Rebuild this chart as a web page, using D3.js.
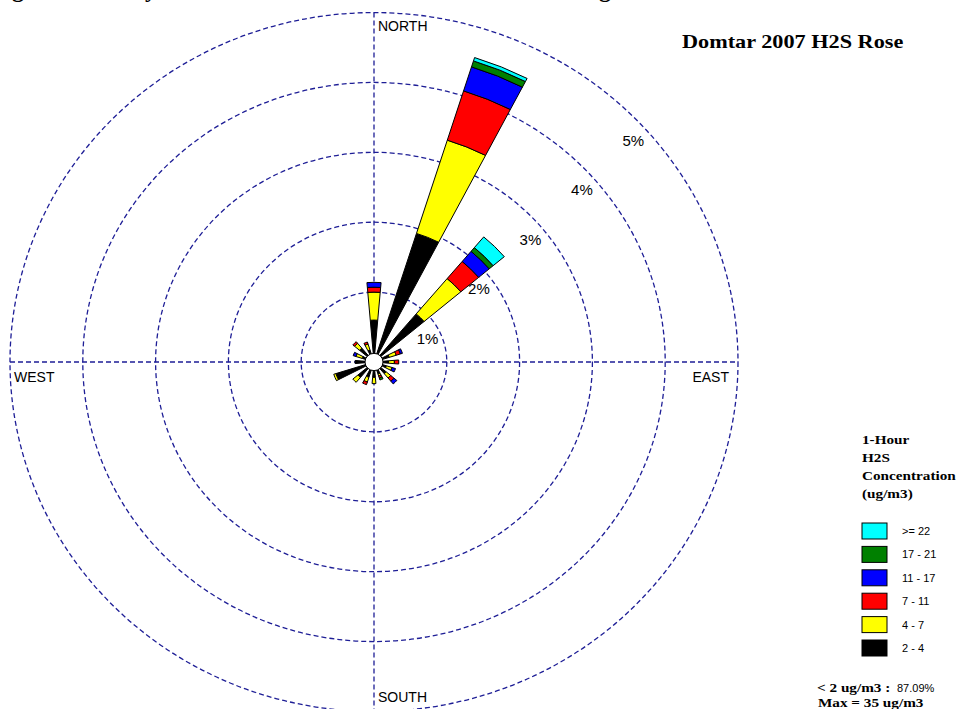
<!DOCTYPE html>
<html>
<head>
<meta charset="utf-8">
<title>Domtar 2007 H2S Rose</title>
<script src="https://cdn.jsdelivr.net/npm/d3@7/dist/d3.min.js"></script>
<style>
  html, body { margin: 0; padding: 0; background: #fff; }
  svg { display: block; }
  .sans { font-family: "Liberation Sans", Arial, sans-serif; fill: #000; }
  .serif { font-family: "Liberation Serif", "Times New Roman", serif; font-weight: bold; fill: #000; }
</style>
</head>
<body>
<svg id="chart" width="966" height="709"></svg>
<script>
// 16 compass sectors, clockwise from north
const directions = ['N', 'NNE', 'NE', 'ENE', 'E', 'ESE', 'SE', 'SSE', 'S', 'SSW', 'SW', 'WSW', 'W', 'WNW', 'NW', 'NNW'];

// frequency (%) of each concentration class per sector
const c2to4   = [0.60, 1.93, 0.90, 0.22, 0.20, 0.18, 0.22, 0.18, 0.22, 0.23, 0.29, 0.55, 0.26, 0.17, 0.26, 0.18];
const c4to7   = [0.40, 1.40, 0.66, 0.10, 0.08, 0.08, 0.08, 0.03, 0.09, 0.07, 0.09, 0.03, 0.00, 0.09, 0.09, 0.09];
const c7to11  = [0.07, 0.74, 0.32, 0.06, 0.06, 0.00, 0.06, 0.03, 0.00, 0.04, 0.00, 0.00, 0.00, 0.00, 0.03, 0.03];
const c11to17 = [0.07, 0.36, 0.19, 0.03, 0.00, 0.05, 0.05, 0.00, 0.00, 0.00, 0.00, 0.00, 0.00, 0.04, 0.00, 0.00];
const c17to21 = [0.00, 0.09, 0.07, 0.00, 0.00, 0.00, 0.00, 0.03, 0.00, 0.00, 0.00, 0.00, 0.00, 0.00, 0.00, 0.00];
const c22up   = [0.00, 0.05, 0.20, 0.00, 0.00, 0.00, 0.00, 0.00, 0.00, 0.00, 0.00, 0.00, 0.00, 0.00, 0.00, 0.00];

const classLabels = ['2 - 4', '4 - 7', '7 - 11', '11 - 17', '17 - 21', '>= 22'];
const classColors = ['#000000', '#ffff00', '#ff0000', '#0000ff', '#008000', '#00ffff'];
const ringTicks = [1, 2, 3, 4, 5];
const compass = [
  { name: 'NORTH' }, { name: 'EAST' }, { name: 'SOUTH' }, { name: 'WEST' }
];
const legendTitle = ['1-Hour', 'H2S', 'Concentration', '(ug/m3)'];
const calmText = '< 2 ug/m3 :';
const calmPct = '87.09%';
const maxText = 'Max = 35 ug/m3';

const svg = d3.select('#chart');
const cx = 374, cy = 362, ky = 0.96;   // source image is slightly squashed vertically
const rScale = d3.scaleLinear().domain([0, 5]).range([0, 364]);
const aScale = d3.scaleLinear().domain([0, directions.length]).range([0, 2 * Math.PI]);
const halfWidth = (9.8 / 2) * Math.PI / 180;
const gridColor = '#1e1e96';

// cut-off caption from the page above the figure (only descenders show)
svg.append('g').attr('class', 'serif').style('font-size', '24px')
  .selectAll('text').data([['g', 12], ['y', 145], ['g', 599], ['2', 646]])
  .join('text').attr('x', d => d[1]).attr('y', -3).text(d => d[0]);

const plot = svg.append('g').attr('transform', `translate(${cx},${cy}) scale(1,${ky})`);

// rings
plot.selectAll('circle.ring').data(ringTicks).join('circle')
  .attr('class', 'ring').attr('r', d => rScale(d))
  .attr('fill', 'none').attr('stroke', gridColor).attr('stroke-width', 1.3)
  .attr('stroke-dasharray', '5,3').attr('vector-effect', 'non-scaling-stroke');

// axes
const R = rScale(5);
plot.append('line').attr('x1', -R).attr('x2', R).attr('y1', 0).attr('y2', 0)
  .attr('stroke', gridColor).attr('stroke-width', 1.3).attr('stroke-dasharray', '5,3')
  .attr('vector-effect', 'non-scaling-stroke');
plot.append('line').attr('x1', 0).attr('x2', 0).attr('y1', -R).attr('y2', R)
  .attr('stroke', gridColor).attr('stroke-width', 1.3).attr('stroke-dasharray', '5,3')
  .attr('vector-effect', 'non-scaling-stroke');

// stacked petals
const rows = directions.map((d, i) => ({
  dir: d, i,
  k0: c2to4[i], k1: c4to7[i], k2: c7to11[i], k3: c11to17[i], k4: c17to21[i], k5: c22up[i]
}));
const keys = ['k0', 'k1', 'k2', 'k3', 'k4', 'k5'];
const stacked = d3.stack().keys(keys)(rows);
const arc = d3.arc();

plot.selectAll('g.band').data(stacked).join('g').attr('class', 'band')
  .attr('fill', (s, j) => classColors[j])
  .selectAll('path').data(s => s.filter(p => p[1] - p[0] > 0)).join('path')
  .attr('d', p => arc({
    innerRadius: rScale(p[0]),
    outerRadius: rScale(p[1]),
    startAngle: aScale(p.data.i) - halfWidth,
    endAngle: aScale(p.data.i) + halfWidth
  }))
  .attr('stroke', '#000').attr('stroke-width', 1)
  .attr('vector-effect', 'non-scaling-stroke');

// calm circle
plot.append('circle').attr('r', 9).attr('fill', '#fff').attr('stroke', '#000')
  .attr('stroke-width', 1).attr('vector-effect', 'non-scaling-stroke');

// ring labels along the NE diagonal
svg.append('g').attr('class', 'sans').style('font-size', '15px')
  .selectAll('text').data(ringTicks).join('text')
  .attr('text-anchor', 'middle')
  .attr('x', d => cx + 2 + rScale(d) * Math.SQRT1_2)
  .attr('y', d => cy - rScale(d) * Math.SQRT1_2 * ky + 31)
  .text(d => d + '%');

// compass labels
const cl = svg.append('g').attr('class', 'sans').style('font-size', '14px');
cl.append('text').attr('x', cx + 4).attr('y', cy - R * ky + 18).text(compass[0].name);
cl.append('text').attr('x', cx + R - 9).attr('y', cy + 20).attr('text-anchor', 'end').text(compass[1].name);
cl.append('text').attr('x', cx + 4).attr('y', 702).text(compass[2].name);
cl.append('text').attr('x', cx - R + 4).attr('y', cy + 20).text(compass[3].name);

// title
svg.append('text').attr('class', 'serif stretch').style('font-size', '19px')
  .attr('x', 682).attr('y', 48).text('Domtar 2007 H2S Rose');

// legend
const lg = svg.append('g');
lg.selectAll('text.lt').data(legendTitle).join('text')
  .attr('class', 'serif stretch lt').style('font-size', '13px')
  .attr('x', 862).attr('y', (d, i) => 444 + i * 18).text(d => d);

const legendRows = d3.range(classLabels.length).reverse();
const ly = d3.scaleLinear().domain([0, 1]).range([523, 546.4]);
lg.selectAll('rect').data(legendRows).join('rect')
  .attr('x', 862).attr('y', (d, i) => ly(i)).attr('width', 25).attr('height', 16)
  .attr('fill', d => classColors[d]).attr('stroke', '#000').attr('stroke-width', 1);
lg.selectAll('text.ll').data(legendRows).join('text')
  .attr('class', 'sans ll').style('font-size', '11px')
  .attr('x', 902).attr('y', (d, i) => ly(i) + 12).text(d => classLabels[d]);

svg.append('text').attr('class', 'serif stretch').style('font-size', '13px')
  .attr('x', 817).attr('y', 692).text(calmText);
svg.append('text').attr('class', 'sans').style('font-size', '11px')
  .attr('x', 897).attr('y', 692).text(calmPct);
svg.append('text').attr('class', 'serif stretch').style('font-size', '13px')
  .attr('x', 818).attr('y', 707).text(maxText);

// the source font is wider than Times; stretch bold serif text to match
svg.selectAll('text.stretch').each(function () {
  const w = this.getComputedTextLength();
  d3.select(this).attr('textLength', w * 1.17).attr('lengthAdjust', 'spacingAndGlyphs');
});
</script>
</body>
</html>
